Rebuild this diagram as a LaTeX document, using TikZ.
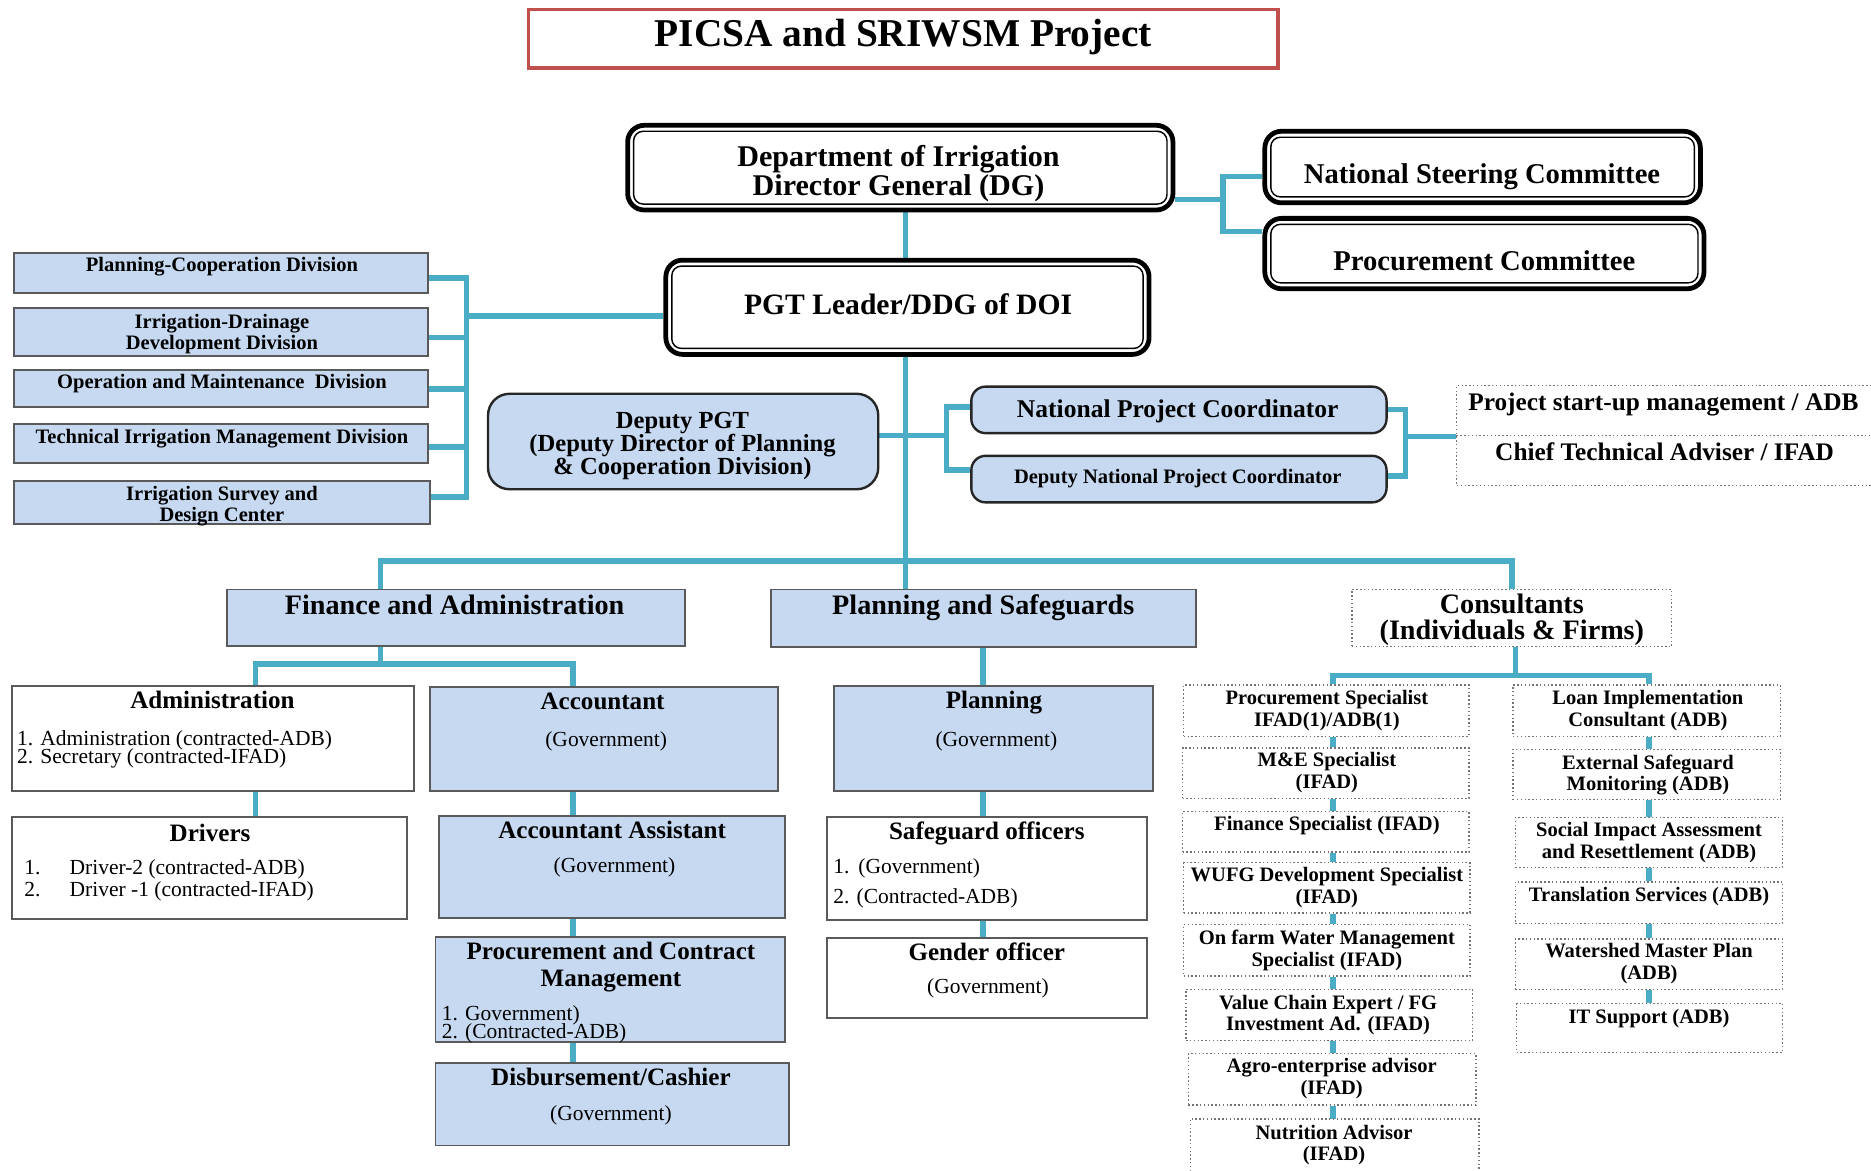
\documentclass[tikz,border=0pt]{standalone}
\usepackage{fontspec}
\setmainfont{Liberation Serif}
\usetikzlibrary{fit,backgrounds}
\definecolor{bfill}{HTML}{C6D9F1}
\definecolor{lnk}{HTML}{4BACC6}
\definecolor{ttl}{HTML}{C0504D}
\definecolor{bord}{HTML}{5A5A5A}
\tikzset{
 conn/.style={draw=lnk, line width=2.3pt},
 bb/.style={draw=bord, fill=bfill, line width=0.8pt, inner sep=0pt},
 wb/.style={draw=bord, fill=white, line width=0.8pt, inner sep=0pt},
 db/.style={draw=black!55, densely dotted, line width=0.6pt, inner sep=0pt},
 rb/.style={draw=black!85, fill=bfill, line width=1pt, rounded corners=6pt, inner sep=0pt},
 bigbox/.style={draw=black, line width=2pt, rounded corners=7pt, fill=white, inner sep=0pt},
 inframe/.style={draw=black, line width=0.6pt, rounded corners=4pt},
 tx/.style={inner sep=0pt, align=center},
 one/.style={text height=#1, text depth=0pt},
 ml/.style={yshift=-1.25pt},
 bigt/.style={tx, font=\fontsize{12.6}{11.5}\selectfont\bfseries},
 divt/.style={tx, font=\fontsize{8.6}{9}\selectfont\bfseries},
 sect/.style={tx, font=\fontsize{11.8}{11}\selectfont\bfseries},
 subt/.style={tx, font=\fontsize{10.5}{11}\selectfont\bfseries},
 smt/.style={inner sep=0pt, font=\fontsize{9}{9}\selectfont, one=5.9pt},
 cst/.style={tx, font=\fontsize{8.6}{9}\selectfont\bfseries},
}
\begin{document}
\begin{tikzpicture}[x=0.5pt,y=-0.5pt]
\useasboundingbox (0,0) rectangle (1568,981);

% ---------- title ----------
\node[draw=ttl, line width=1.3pt, fill=white, inner sep=0pt, fit={(443,8) (1071,57)}] (title) {};
\node[tx, one=10.9pt, font=\fontsize{16.5}{18}\selectfont\bfseries] (title-t) at (757,28) {PICSA and SRIWSM Project};

% ---------- top boxes ----------
\node[bigbox, fit={(526,105) (983,176)}] (dg) {};
\draw[inframe] ([shift={(7,7)}]dg.north west) rectangle ([shift={(-7,-7)}]dg.south east);
\node[bigt, ml] (dg-t) at (753,143) {Department of Irrigation\\Director General (DG)};

\node[bigbox, fit={(1060,110) (1425,170)}] (nsc) {};
\draw[inframe] ([shift={(7,7)}]nsc.north west) rectangle ([shift={(-7,-7)}]nsc.south east);
\node[tx, one=7.9pt, font=\fontsize{12}{12}\selectfont\bfseries] (nsc-t) at (1242,146) {National Steering Committee};

\node[bigbox, fit={(1060,183) (1428,242)}] (pc) {};
\draw[inframe] ([shift={(7,7)}]pc.north west) rectangle ([shift={(-7,-7)}]pc.south east);
\node[tx, one=7.9pt, font=\fontsize{12}{12}\selectfont\bfseries] (pc-t) at (1244,219) {Procurement Committee};

\node[bigbox, fit={(558,218) (963,297)}] (pgt) {};
\draw[inframe] ([shift={(7,7)}]pgt.north west) rectangle ([shift={(-7,-7)}]pgt.south east);
\node[tx, one=8.2pt, font=\fontsize{12.4}{12}\selectfont\bfseries] (pgt-t) at (761,255) {PGT Leader/DDG of DOI};

% ---------- divisions ----------
\node[bb, fit={(12,212) (359,245.5)}] (d1) {};
\node[divt, one=5.7pt] (d1-t) at (186,222) {Planning-Cooperation Division};
\node[bb, fit={(12,258) (359,298)}] (d2) {};
\node[divt, ml] (d2-t) at (186,277.5) {Irrigation-Drainage\\Development Division};
\node[bb, fit={(12,310) (359,341)}] (d3) {};
\node[divt, one=5.7pt] (d3-t) at (186,320) {Operation and Maintenance\ \ Division};
\node[bb, fit={(12,355) (359,388)}] (d4) {};
\node[divt, one=5.7pt] (d4-t) at (186,366) {Technical Irrigation Management Division};
\node[bb, fit={(12,403) (360,439)}] (d5) {};
\node[divt, ml] (d5-t) at (186,421.5) {Irrigation Survey and\\Design Center};

% ---------- deputy & coordinators ----------
\node[rb, rounded corners=9pt, fit={(409,330) (736,410)}] (dep) {};
\node[tx, ml, font=\fontsize{10.3}{9.6}\selectfont\bfseries] (dep-t) at (572,371.5) {Deputy PGT\\(Deputy Director of Planning\\\& Cooperation Division)};
\node[rb, fit={(814,324) (1162,363)}] (npc) {};
\node[tx, one=7.1pt, font=\fontsize{10.7}{11}\selectfont\bfseries] (npc-t) at (987,343) {National Project Coordinator};
\node[rb, fit={(814,382) (1162,421)}] (dnpc) {};
\node[tx, one=5.7pt, font=\fontsize{8.6}{9}\selectfont\bfseries] (dnpc-t) at (987,399.5) {Deputy National Project Coordinator};

\node[inner sep=0pt, fit={(1221,323.5) (1568,406.5)}] (psu) {};
\draw[db] (psu.north east) -- (psu.north west) -- (psu.south west) -- (psu.south east);
\draw[db] (psu.west) -- (psu.east);
\node[tx, one=7pt, font=\fontsize{10.6}{11}\selectfont\bfseries] (psu-t1) at (1394,337) {Project start-up management / ADB};
\node[tx, one=7pt, font=\fontsize{10.6}{11}\selectfont\bfseries] (psu-t2) at (1395,379) {Chief Technical Adviser / IFAD};

% ---------- sections ----------
\node[bb, fit={(190,494) (574,541)}] (fa) {};
\node[sect, one=7.8pt] (fa-t) at (381,507) {Finance and Administration};
\node[bb, fit={(646,494) (1002,542)}] (ps) {};
\node[sect, one=7.8pt] (ps-t) at (824,507) {Planning and Safeguards};
\node[db, fit={(1133,494) (1401,542)}] (con) {};
\node[sect, ml] (con-t) at (1267,517) {Consultants\\(Individuals \& Firms)};

% ---------- finance column ----------
\node[wb, fit={(10,575) (347,663)}] (adm) {};
\node[subt, one=6.9pt] (adm-t) at (178,587) {Administration};
\node[smt, anchor=west] (adm-1) at (14,619) {1. Administration (contracted-ADB)};
\node[smt, anchor=west] (adm-2) at (14,634) {2. Secretary (contracted-IFAD)};

\node[wb, fit={(10,685) (341,770)}] (drv) {};
\node[subt, one=6.9pt] (drv-t) at (176,698) {Drivers};
\node[smt, anchor=west] (drv-n1) at (20,727) {1.};
\node[smt, anchor=west] (drv-1) at (58,727) {Driver-2 (contracted-ADB)};
\node[smt, anchor=west] (drv-n2) at (20,745) {2.};
\node[smt, anchor=west] (drv-2) at (58,745) {Driver -1 (contracted-IFAD)};

\node[bb, fit={(360,576) (652,663)}] (acc) {};
\node[subt, one=6.9pt] (acc-t) at (505,588) {Accountant};
\node[smt] (acc-g) at (508,620) {(Government)};

\node[bb, fit={(368,684) (658,769)}] (aa) {};
\node[subt, one=6.9pt] (aa-t) at (513,696) {Accountant Assistant};
\node[smt] (aa-g) at (515,725) {(Government)};

\node[bb, fit={(365,785) (658,873)}] (pcm) {};
\node[subt, ml] (pcm-t) at (512,808) {Procurement and Contract\\Management};
\node[smt, anchor=west] (pcm-1) at (370,849) {1. Government)};
\node[smt, anchor=west] (pcm-2) at (370,864) {2. (Contracted-ADB)};

\node[bb, fit={(365,891) (661,960)}] (dis) {};
\node[subt, one=6.9pt] (dis-t) at (512,903) {Disbursement/Cashier};
\node[smt] (dis-g) at (512,933) {(Government)};

% ---------- planning column ----------
\node[bb, fit={(699,575) (966,663)}] (pl) {};
\node[subt, one=6.9pt] (pl-t) at (833,587) {Planning};
\node[smt] (pl-g) at (835,620) {(Government)};

\node[wb, fit={(693,685) (961,771)}] (sg) {};
\node[subt, one=6.9pt] (sg-t) at (827,697) {Safeguard officers};
\node[smt, anchor=west] (sg-n1) at (698,726) {1.};
\node[smt, anchor=west] (sg-1) at (719,726) {(Government)};
\node[smt, anchor=west] (sg-2) at (698,751) {2. (Contracted-ADB)};

\node[wb, fit={(693,786) (961,853)}] (gen) {};
\node[subt, one=6.9pt] (gen-t) at (827,798) {Gender officer};
\node[smt] (gen-g) at (828,827) {(Government)};

% ---------- consultants ----------
\node[db, fit={(992,574) (1231,617)}] (c1) {};
\node[cst, ml] (c1-t) at (1112,593) {Procurement Specialist\\IFAD(1)/ADB(1)};
\node[db, fit={(991,627) (1231,669)}] (c2) {};
\node[cst, ml] (c2-t) at (1112,645) {M\&E Specialist\\(IFAD)};
\node[db, fit={(991,680) (1231,714)}] (c3) {};
\node[cst, one=5.7pt] (c3-t) at (1112,690) {Finance Specialist (IFAD)};
\node[db, fit={(992,723) (1232,765)}] (c4) {};
\node[cst, ml] (c4-t) at (1112,741.5) {WUFG Development Specialist\\(IFAD)};
\node[db, fit={(992,775) (1232,818)}] (c5) {};
\node[cst, ml] (c5-t) at (1112,794) {On farm Water Management\\Specialist (IFAD)};
\node[db, fit={(994,829) (1234,872)}] (c6) {};
\node[cst, ml] (c6-t) at (1113,848) {Value Chain Expert / FG\\Investment Ad. (IFAD)};
\node[db, fit={(996,883) (1237,926)}] (c7) {};
\node[cst, ml] (c7-t) at (1116,901.5) {Agro-enterprise advisor\\(IFAD)};
\node[inner sep=0pt, fit={(998,938) (1239,981)}] (c8) {};
\draw[db] (c8.south west) -- (c8.north west) -- (c8.north east) -- (c8.south east);
\node[cst, ml] (c8-t) at (1118,957) {Nutrition Advisor\\(IFAD)};

\node[db, fit={(1268,574) (1492,617)}] (r1) {};
\node[cst, ml] (r1-t) at (1381,593) {Loan Implementation\\Consultant (ADB)};
\node[db, fit={(1268,628) (1492,670)}] (r2) {};
\node[cst, ml] (r2-t) at (1381,647) {External Safeguard\\Monitoring (ADB)};
\node[db, fit={(1270,685) (1494,727)}] (r3) {};
\node[cst, ml] (r3-t) at (1382,703.5) {Social Impact Assessment\\and Resettlement (ADB)};
\node[db, fit={(1270,739) (1494,774)}] (r4) {};
\node[cst, one=5.7pt] (r4-t) at (1382,750) {Translation Services (ADB)};
\node[db, fit={(1270,787) (1494,829)}] (r5) {};
\node[cst, ml] (r5-t) at (1382,805) {Watershed Master Plan\\(ADB)};
\node[db, fit={(1271,841) (1494,882)}] (r6) {};
\node[cst, one=5.7pt] (r6-t) at (1382,852) {IT Support (ADB)};

% ---------- connectors ----------
\coordinate (xM) at (759,0);
\coordinate (xA) at (214,0);
\coordinate (xB) at (480,0);
\coordinate (xC) at (824,0);
\coordinate (xL) at (1117,0);
\coordinate (xR) at (1382,0);
\coordinate (ja) at (1025,148);
\coordinate (jb) at (1025,194);
\coordinate (jc) at (1025,167);
\coordinate (dv) at (391,265);
\coordinate (dy1) at (391,233);
\coordinate (dy2) at (391,283);
\coordinate (dy3) at (391,326);
\coordinate (dy4) at (391,374.5);
\coordinate (dy5) at (391,416.5);
\coordinate (dpa) at (793,365);
\coordinate (dpb) at (793,341);
\coordinate (dpc) at (793,394);
\coordinate (rpa) at (1178,343);
\coordinate (rpb) at (1178,399);
\coordinate (rpm) at (1178,366);
\coordinate (bj) at (759,470);
\coordinate (fj) at (319,556.5);
\coordinate (cj) at (1270,566);

\begin{scope}[on background layer]
\fill[white] (0,0) rectangle (1568,981);
\draw[conn] (dg.east |- jc) -- (jc);
\draw[conn] (nsc.west |- ja) -- (ja) -- (jb) -- (pc.west |- jb);
\draw[conn] (dg.south -| xM) -- (pgt.north -| xM);
\draw[conn] (pgt.west |- dv) -- (dv);
\draw[conn] (d1.east |- dy1) -- (dy1) -- (dy5) -- (d5.east |- dy5);
\draw[conn] (d2.east |- dy2) -- (dy2);
\draw[conn] (d3.east |- dy3) -- (dy3);
\draw[conn] (d4.east |- dy4) -- (dy4);
\draw[conn] (pgt.south -| xM) -- (ps.north -| xM);
\draw[conn] (dep.east |- dpa) -- (dpa);
\draw[conn] (npc.west |- dpb) -- (dpb) -- (dpc) -- (dnpc.west |- dpc);
\draw[conn] (npc.east |- rpa) -- (rpa) -- (rpb) -- (dnpc.east |- rpb);
\draw[conn] (rpm) -- (psu.west |- rpm);
\draw[conn] (fa.north -| fj) |- (bj) -| (con.north);
\draw[conn] (fa.south -| fj) -- (fj);
\draw[conn] (adm.north -| xA) |- (fj) -| (acc.north -| xB);
\draw[conn] (adm.south -| xA) -- (drv.north -| xA);
\draw[conn] (acc.south -| xB) -- (aa.north -| xB);
\draw[conn] (aa.south -| xB) -- (pcm.north -| xB);
\draw[conn] (pcm.south -| xB) -- (dis.north -| xB);
\draw[conn] (ps.south -| xC) -- (pl.north -| xC);
\draw[conn] (pl.south -| xC) -- (sg.north -| xC);
\draw[conn] (sg.south -| xC) -- (gen.north -| xC);
\draw[conn] (con.south -| cj) -- (cj);
\draw[conn] (c1.north -| xL) |- (cj) -| (r1.north -| xR);
\foreach \a/\b in {c1/c2,c2/c3,c3/c4,c4/c5,c5/c6,c6/c7,c7/c8}
  \draw[conn] (\a.south -| xL) -- (\b.north -| xL);
\foreach \a/\b in {r1/r2,r2/r3,r3/r4,r4/r5,r5/r6}
  \draw[conn] (\a.south -| xR) -- (\b.north -| xR);
\end{scope}
\end{tikzpicture}
\end{document}
